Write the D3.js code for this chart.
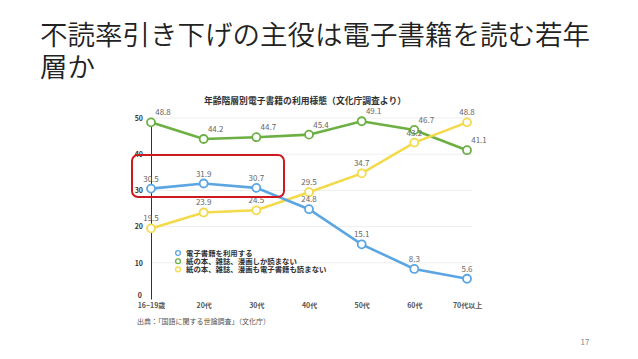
<!DOCTYPE html>
<html><head><meta charset="utf-8">
<script src="https://cdn.jsdelivr.net/npm/d3@7"></script>
<style>body{margin:0;background:#fff}svg{display:block}</style>
</head><body>
<svg id="c" width="638" height="359"></svg>
<script>
const categories = ["16~19歳","20代","30代","40代","50代","60代","70代以上"];
const useEbook = [30.5,31.9,30.7,24.8,15.1,8.3,5.6];
const paperOnly = [48.8,44.2,44.7,45.4,49.1,46.7,41.1];
const readNeither = [19.5,23.9,24.5,29.5,34.7,43.2,48.8];
const seriesNames = ["電子書籍を利用する","紙の本、雑誌、漫画しか読まない","紙の本、雑誌、漫画も電子書籍も読まない"];
const yTicks = [0,10,20,30,40,50];

const svg = d3.select("#c");
const font = "'Noto Sans CJK JP','Noto Sans',sans-serif";

// Slide title
svg.append("text").attr("x",40).attr("y",45).attr("font-family",font)
  .attr("font-size",27.5).attr("font-weight",350).attr("fill","#222").text("不読率引き下げの主役は電子書籍を読む若年");
svg.append("text").attr("x",40).attr("y",77).attr("font-family",font)
  .attr("font-size",27.5).attr("font-weight",350).attr("fill","#222").text("層か");

// chart title
svg.append("text").attr("x",305).attr("y",104).attr("text-anchor","middle")
  .attr("font-family",font).attr("font-size",8.8).attr("font-weight","bold").attr("fill","#333")
  .text("年齢階層別電子書籍の利用様態（文化庁調査より）");

const x = d3.scalePoint().domain(categories).range([151,467]);
const y = d3.scaleLinear().domain([0,50]).range([299,118]);

// gridlines
svg.append("g").selectAll("line").data(yTicks.slice(1)).join("line")
  .attr("x1",151).attr("x2",472).attr("y1",d=>y(d)).attr("y2",d=>y(d))
  .attr("stroke","#eeeeee").attr("stroke-width",1);

// y axis
const yAxis = d3.axisLeft(y).tickValues(yTicks).tickSize(0).tickPadding(8);
const gy = svg.append("g").attr("transform","translate(151,0)").call(yAxis);
gy.select(".domain").attr("stroke","#333").attr("stroke-width",1);
gy.selectAll("text").attr("font-family",font).attr("font-size",7).attr("font-weight","bold").attr("fill","#333");
gy.selectAll(".tick").filter(d=>d===0).select("text").attr("dy","-0.2em").attr("x",-9);

// x axis labels
const xAxis = d3.axisBottom(x).tickSize(0).tickPadding(4);
const gx = svg.append("g").attr("transform","translate(0,299)").call(xAxis);
gx.select(".domain").remove();
gx.selectAll("text").attr("font-family",font).attr("font-size",7).attr("font-weight","bold").attr("fill","#555");

const colors = ["#5ba6e2","#6cb043","#f2da4a"];
const data = [useEbook,paperOnly,readNeither];
const labelDx = [0,12,0];
const line = d3.line().x((d,i)=>x(categories[i])).y(d=>y(d));

[1,2,0].forEach(s=>{
  svg.append("path").datum(data[s]).attr("d",line).attr("fill","none")
    .attr("stroke",colors[s]).attr("stroke-width",2.6);
});
[1,2,0].forEach(s=>{
  svg.append("g").selectAll("circle").data(data[s]).join("circle")
    .attr("cx",(d,i)=>x(categories[i])).attr("cy",d=>y(d)).attr("r",4)
    .attr("fill","#fff").attr("stroke",colors[s]).attr("stroke-width",1.8);
});
[1,2,0].forEach(s=>{
  svg.append("g").selectAll("text").data(data[s]).join("text")
    .attr("x",(d,i)=>x(categories[i])+labelDx[s]).attr("y",d=>y(d)-7)
    .attr("text-anchor","middle").attr("font-family",font).attr("font-size",8)
    .attr("fill","#666").text(d=>d.toFixed(1));
});

// legend
seriesNames.forEach((n,i)=>{
  const yy = 253 + i*8.2;
  svg.append("circle").attr("cx",178).attr("cy",yy).attr("r",2.4)
    .attr("fill","#fff").attr("stroke",colors[i]).attr("stroke-width",1.3);
  svg.append("text").attr("x",186).attr("y",yy+2.6).attr("font-family",font)
    .attr("font-size",7.4).attr("font-weight","bold").attr("fill","#333").text(n);
});

// source
svg.append("text").attr("x",137).attr("y",324).attr("font-family",font)
  .attr("font-size",7).attr("fill","#555").text("出典：「国語に関する世論調査」（文化庁）");

// red highlight box
svg.append("rect").attr("x",132).attr("y",155).attr("width",152).attr("height",42)
  .attr("rx",6).attr("fill","none").attr("stroke","#d01820").attr("stroke-width",2);

// page number
svg.append("text").attr("x",585).attr("y",345).attr("text-anchor","middle")
  .attr("font-family",font).attr("font-size",8).attr("fill","#888").text("17");
</script>
</body></html>
